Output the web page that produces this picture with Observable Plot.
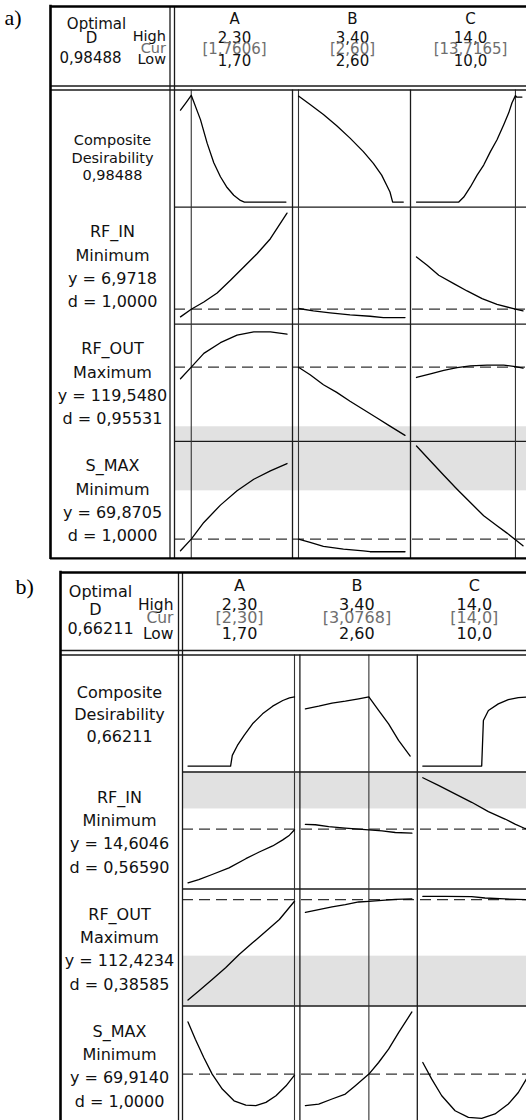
<!DOCTYPE html>
<html><head><meta charset="utf-8">
<script src="https://cdn.jsdelivr.net/npm/d3@7"></script>
<script src="https://cdn.jsdelivr.net/npm/@observablehq/plot@0.6"></script>
<style>body{margin:0;background:#fff} #chart svg{display:block}</style>
</head><body><div id="chart"></div>
<script>
// ---------- data ----------
const factors = ["A", "B", "C"];
const factorLow = [1.70, 2.60, 10.0];
const factorHigh = [2.30, 3.40, 14.0];
const factorLowText = ["1,70", "2,60", "10,0"];
const factorHighText = ["2,30", "3,40", "14,0"];
const responseNames = ["Composite\nDesirability", "RF_IN", "RF_OUT", "S_MAX"];
const responseGoals = ["", "Minimum", "Maximum", "Minimum"];

// panel a
const curA = [1.7606, 2.60, 13.7165];
const curTextA = ["[1,7606]", "[2,60]", "[13,7165]"];
const optDA = "0,98488";
const predA = ["6,9718", "119,5480", "69,8705"];
const desA = ["1,0000", "0,95531", "1,0000"];
const targetA = [null, 0.128, 0.633, 0.165];           // dashed target level, fraction of cell height
const bandA = [[2, 0, 0.124], [3, 0.577, 1]];          // [row, from, to] grey band
// curves: [coded factor 0..1, fraction of cell height]
const aComp = [
  [[0,0.828],[0.056,0.897],[0.101,0.955],[0.1875,0.747],[0.25,0.546],[0.3125,0.379],[0.375,0.259],[0.4375,0.167],[0.5,0.101],[0.5625,0.057],[0.6,0.043],[0.99,0.043]],
  [[0,0.948],[0.109,0.876],[0.234,0.79],[0.359,0.695],[0.484,0.589],[0.609,0.474],[0.703,0.374],[0.781,0.273],[0.828,0.187],[0.859,0.129],[0.884,0.043],[0.984,0.043]],
  [[0,0.043],[0.397,0.043],[0.444,0.086],[0.506,0.172],[0.569,0.273],[0.631,0.359],[0.694,0.474],[0.756,0.575],[0.819,0.704],[0.866,0.805],[0.897,0.891],[0.929,0.952],[0.94,0.94],[0.99,0.94]]
];
const aRfIn = [
  [[0,0.0625],[0.101,0.128],[0.219,0.19],[0.344,0.267],[0.469,0.375],[0.594,0.489],[0.719,0.602],[0.844,0.73],[1,0.949]],
  [[0,0.134],[0.14,0.114],[0.297,0.097],[0.484,0.08],[0.672,0.068],[0.797,0.057],[1,0.057]],
  [[0,0.574],[0.1,0.503],[0.209,0.418],[0.35,0.347],[0.475,0.284],[0.616,0.219],[0.756,0.17],[0.929,0.128],[1,0.114]]
];
const aRfOut = [
  [[0,0.534],[0.101,0.633],[0.219,0.751],[0.375,0.842],[0.531,0.907],[0.688,0.935],[0.844,0.935],[1,0.915]],
  [[0,0.633],[0.109,0.568],[0.234,0.483],[0.359,0.418],[0.484,0.342],[0.609,0.271],[0.734,0.201],[0.859,0.13],[1,0.051]],
  [[0,0.545],[0.131,0.576],[0.256,0.605],[0.381,0.63],[0.506,0.644],[0.663,0.65],[0.819,0.65],[0.929,0.638],[1,0.624]]
];
const aSmax = [
  [[0,0.065],[0.101,0.165],[0.219,0.307],[0.375,0.455],[0.531,0.577],[0.688,0.676],[0.844,0.747],[1,0.81]],
  [[0,0.165],[0.109,0.136],[0.234,0.102],[0.422,0.08],[0.609,0.065],[0.672,0.057],[1,0.057]],
  [[0,0.96],[0.131,0.832],[0.256,0.71],[0.381,0.591],[0.506,0.477],[0.631,0.364],[0.756,0.278],[0.85,0.216],[0.929,0.159],[1,0.108]]
];

// panel b
const curB = [2.30, 3.0768, 14.0];
const curTextB = ["[2,30]", "[3,0768]", "[14,0]"];
const optDB = "0,66211";
const predB = ["14,6046", "112,4234", "69,9140"];
const desB = ["0,56590", "0,38585", "1,0000"];
const targetB = [null, 0.511, 0.909, 0.418];
const bandB = [[1, 0.684, 1], [2, 0, 0.426]];
const bComp = [
  [[0,0.051],[0.4,0.051],[0.416,0.142],[0.464,0.227],[0.527,0.3125],[0.606,0.412],[0.7,0.497],[0.795,0.5625],[0.89,0.611],[0.953,0.634],[1,0.642]],
  [[0,0.54],[0.125,0.5625],[0.25,0.588],[0.375,0.605],[0.5,0.625],[0.596,0.642],[0.6875,0.526],[0.781,0.412],[0.875,0.27],[0.984,0.136]],
  [[0,0.051],[0.553,0.051],[0.569,0.44],[0.616,0.526],[0.709,0.582],[0.803,0.619],[0.897,0.636],[1,0.642]]
];
const bRfIn = [
  [[0,0.052],[0.101,0.08],[0.227,0.124],[0.385,0.181],[0.543,0.259],[0.669,0.316],[0.795,0.368],[0.89,0.42],[0.953,0.46],[1,0.506]],
  [[0,0.552],[0.094,0.549],[0.219,0.534],[0.375,0.52],[0.5,0.511],[0.596,0.506],[0.719,0.497],[0.844,0.483],[1,0.477]],
  [[0,0.951],[0.147,0.885],[0.303,0.813],[0.459,0.741],[0.616,0.661],[0.772,0.598],[0.866,0.555],[0.959,0.517],[1,0.511]]
];
const bRfOut = [
  [[0,0.051],[0.101,0.128],[0.227,0.227],[0.353,0.327],[0.48,0.44],[0.606,0.54],[0.732,0.639],[0.858,0.739],[1,0.895]],
  [[0,0.801],[0.125,0.824],[0.25,0.847],[0.375,0.866],[0.5,0.889],[0.596,0.895],[0.719,0.903],[0.844,0.912],[1,0.915]],
  [[0,0.9375],[0.209,0.9375],[0.459,0.935],[0.584,0.923],[0.772,0.915],[1,0.909]]
];
const bSmax = [
  [[0,0.864],[0.069,0.716],[0.148,0.56],[0.227,0.418],[0.322,0.29],[0.432,0.19],[0.543,0.153],[0.637,0.148],[0.732,0.176],[0.826,0.233],[0.921,0.318],[1,0.409]],
  [[0,0.148],[0.125,0.162],[0.25,0.205],[0.375,0.247],[0.469,0.318],[0.596,0.418],[0.6875,0.517],[0.781,0.631],[0.875,0.773],[1,0.949]],
  [[0,0.517],[0.084,0.375],[0.178,0.233],[0.303,0.105],[0.428,0.048],[0.553,0.04],[0.678,0.077],[0.803,0.162],[0.897,0.261],[0.972,0.375],[1,0.418]]
];

// ---------- drawing ----------
const FONT = "DejaVu Sans";
const INK = "#1a1a1a";
const W = 526;

function buildPanel(p) {
  const colLeft = i => p.PL + i * p.colW;
  const rowTop = j => p.PT + j * p.rowH;
  const code = (i, v) => (v - factorLow[i]) / (factorHigh[i] - factorLow[i]);
  const cx = (i, f) => colLeft(i) + p.pad + f * p.cw;
  const cy = (j, v) => rowTop(j) + p.rowH * (1 - v);
  const right = W + 10;
  const bottom = p.bottom;

  const curvePts = [];
  p.curves.forEach((rowCurves, j) => rowCurves.forEach((pts, i) =>
    pts.forEach(([f, v]) => curvePts.push({key: j + "-" + i, x: cx(i, f), y: cy(j, v)}))));

  const bands = p.bands.map(([j, a, b]) => ({y1: cy(j, b), y2: cy(j, a)}));
  const targets = p.target.map((t, j) => t == null ? null : {y: cy(j, t)}).filter(d => d);
  const curLines = p.cur.map((c, i) => ({x: cx(i, code(i, c))}));
  const colSeps = [1, 2, 3].map(i => ({x: colLeft(i)}));
  const rowSeps = [1, 2, 3].map(j => ({y: rowTop(j)}));

  // header texts
  const hdrBlack = [], hdrGray = [];
  factors.forEach((f, i) => {
    const x = colLeft(i) + p.hdrDX;
    hdrBlack.push({x, y: p.Y0 + p.hy[0], t: f});
    hdrBlack.push({x, y: p.Y0 + p.hy[1], t: factorHighText[i]});
    hdrGray.push({x, y: p.Y0 + p.hy[2], t: p.curText[i]});
    hdrBlack.push({x, y: p.Y0 + p.hy[3], t: factorLowText[i]});
  });
  const optLines = [
    {x: p.X0 + p.optX[0], y: p.Y0 + p.optY[0], t: "Optimal"},
    {x: p.X0 + p.optX[1], y: p.Y0 + p.optY[1], t: "D"},
    {x: p.X0 + p.optX[2], y: p.Y0 + p.optY[2], t: p.optD}
  ];
  const hclBlack = [
    {x: p.LBR - p.hclR, y: p.Y0 + p.hclY[0], t: "High"},
    {x: p.LBR - p.hclR, y: p.Y0 + p.hclY[2], t: "Low"}
  ];
  const hclGray = [{x: p.LBR - p.hclR, y: p.Y0 + p.hclY[1], t: "Cur"}];

  // row labels
  const compLines = responseNames[0].split("\n").concat([p.optD]).map((t, k) =>
    ({x: p.labX, y: rowTop(0) + p.compOff + k * p.compStep, t}));
  const respLines = [];
  [1, 2, 3].forEach(j => {
    [responseNames[j], responseGoals[j], "y = " + p.pred[j - 1], "d = " + p.des[j - 1]].forEach((t, k) =>
      respLines.push({x: p.labX, y: rowTop(j) + p.labOff + k * p.labStep, t}));
  });

  const gridV = [{x: p.LBR}, {x: p.PL}];
  const gridH = [{y: p.HB}, {y: p.PT}];

  const marks = [
    Plot.rect(bands, {x1: () => p.PL, x2: () => right, y1: "y1", y2: "y2", fill: "#e1e1e1"}),
    Plot.ruleY(targets, {y: "y", x1: () => p.PL, x2: () => right, stroke: "#333", strokeWidth: 1.2, strokeDasharray: "11,6"}),
    Plot.ruleX(colSeps, {x: "x", y1: () => p.PT, y2: () => bottom, stroke: INK, strokeWidth: 1.3}),
    Plot.ruleY(rowSeps, {y: "y", x1: () => p.PL, x2: () => right, stroke: INK, strokeWidth: 1.3}),
    Plot.ruleX(curLines, {x: "x", y1: () => p.PT, y2: () => bottom, stroke: "#333", strokeWidth: 1.1}),
    Plot.ruleX(gridV, {x: "x", y1: () => p.Y0, y2: () => bottom, stroke: INK, strokeWidth: 1.3}),
    Plot.ruleY(gridH, {y: "y", x1: () => p.X0, x2: () => right, stroke: INK, strokeWidth: 1.3}),
    Plot.ruleX([{x: p.X0}], {x: "x", y1: () => p.Y0 - 1.2, y2: () => bottom + 1.2, stroke: "#000", strokeWidth: 2.6}),
    Plot.ruleY([{y: p.Y0}].concat(p.closed ? [{y: bottom}] : []), {y: "y", x1: () => p.X0, x2: () => right, stroke: "#000", strokeWidth: 2.4}),
    Plot.line(curvePts, {x: "x", y: "y", z: "key", stroke: "#000", strokeWidth: 1.3, curve: "linear"}),
    Plot.text(hdrBlack, {x: "x", y: "y", text: "t", fill: "#111", fontSize: p.hdrFont, fontFamily: FONT, lineAnchor: "middle"}),
    Plot.text(hdrGray, {x: "x", y: "y", text: "t", fill: "#6e6e6e", fontSize: p.hdrFont, fontFamily: FONT, lineAnchor: "middle"}),
    Plot.text(optLines, {x: "x", y: "y", text: "t", fill: "#111", fontSize: p.hdrFont, fontFamily: FONT, lineAnchor: "middle"}),
    Plot.text(hclBlack, {x: "x", y: "y", text: "t", fill: "#111", fontSize: p.hclFont, fontFamily: FONT, lineAnchor: "middle", textAnchor: "end"}),
    Plot.text(hclGray, {x: "x", y: "y", text: "t", fill: "#6e6e6e", fontSize: p.hclFont, fontFamily: FONT, lineAnchor: "middle", textAnchor: "end"}),
    Plot.text(compLines, {x: "x", y: "y", text: "t", fill: "#111", fontSize: p.compFont, fontFamily: FONT, lineAnchor: "middle"}),
    Plot.text(respLines, {x: "x", y: "y", text: "t", fill: "#111", fontSize: p.labFont, fontFamily: FONT, lineAnchor: "middle"}),
    Plot.text([{x: p.tagX, y: p.tagY, t: p.tag}], {x: "x", y: "y", text: "t", fill: "#000", fontSize: 22, fontFamily: "Liberation Serif", lineAnchor: "middle", textAnchor: "start"})
  ];

  return Plot.plot({
    width: W, height: p.yMax - p.yMin,
    marginTop: 0, marginBottom: 0, marginLeft: 0, marginRight: 0,
    x: {domain: [0, W], range: [0, W], axis: null},
    y: {domain: [p.yMin, p.yMax], range: [0, p.yMax - p.yMin], axis: null},
    style: {background: "#fff", overflow: "hidden"},
    marks
  });
}

const panelA = buildPanel({
  tag: "a)", tagX: 4, tagY: 17,
  yMin: 0, yMax: 563,
  X0: 50, Y0: 6, LBR: 169.5, PL: 174, HB: 85.5, PT: 89.5,
  colW: 118, rowH: 117.1, pad: 6, cw: 106.5, bottom: 557.9, closed: true,
  cur: curA, curText: curTextA, optD: optDA, pred: predA, des: desA,
  target: targetA, bands: bandA, curves: [aComp, aRfIn, aRfOut, aSmax],
  hdrDX: 60, hy: [13, 32, 42.5, 55], hdrFont: 15,
  optX: [46, 41, 40], optY: [18, 32, 51.5],
  hclR: 4, hclY: [30, 42, 53], hclFont: 14.5,
  labX: 112, labOff: 25, labStep: 23.3, labFont: 16,
  compOff: 50.5, compStep: 17.5, compFont: 14.5
});
const panelB = buildPanel({
  tag: "b)", tagX: 15, tagY: 586,
  yMin: 563, yMax: 1120,
  X0: 60, Y0: 572, LBR: 178, PL: 182, HB: 650, PT: 654.5,
  colW: 117.4, rowH: 117, pad: 5.5, cw: 106.5, bottom: 1125, closed: false,
  cur: curB, curText: curTextB, optD: optDB, pred: predB, des: desB,
  target: targetB, bands: bandB, curves: [bComp, bRfIn, bRfOut, bSmax],
  hdrDX: 57, hy: [13, 32.5, 45.5, 61.5], hdrFont: 16,
  optX: [40, 35, 40], optY: [19.5, 37, 56],
  hclR: 5, hclY: [32.5, 45.5, 61.5], hclFont: 15.5,
  labX: 119, labOff: 25.5, labStep: 23.3, labFont: 16,
  compOff: 38.2, compStep: 22, compFont: 16
});
document.getElementById("chart").append(panelA, panelB);
</script></body></html>
